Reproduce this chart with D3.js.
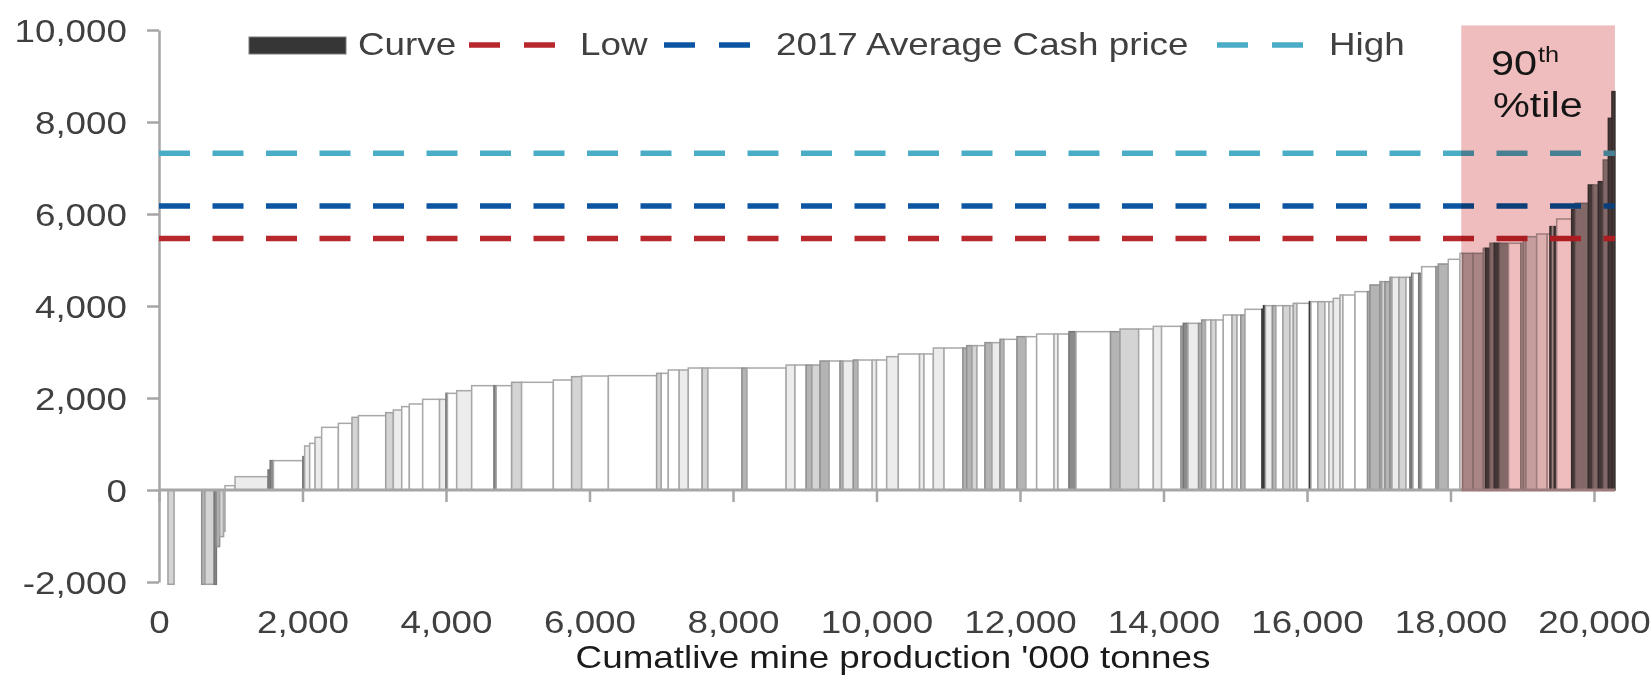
<!DOCTYPE html>
<html>
<head>
<meta charset="UTF-8">
<title>Cash cost curve</title>
<script src="https://d3js.org/d3.v7.min.js"></script>
<style>
  body { margin: 0; background: #fff; }
  svg { display: block; font-family: "Liberation Sans", Arial, sans-serif; }
</style>
</head>
<body>
<div id="chart"></div>
<script>
// output of each mine ('000 t), in curve order
const mineOutput = [
  125, 85, 385, 45, 130, 30, 45, 55, 20, 140, 460, 30, 45, 410, 25, 70, 75, 92, 233, 190,
  90, 380, 106, 117, 106, 186, 235, 90, 20, 129, 209, 312, 30, 215, 139, 442, 255, 140, 372, 673,
  64, 98, 152, 127, 193, 80, 475, 70, 545, 124, 156, 80, 113, 127, 152, 42, 143, 65, 198, 60,
  142, 162, 296, 62, 130, 149, 264, 52, 73, 70, 112, 98, 111, 56, 181, 125, 149, 242, 55, 154,
  97, 482, 132, 260, 204, 115, 271, 32, 65, 148, 43, 54, 75, 70, 102, 122, 70, 52, 59, 236,
  22, 27, 97, 49, 98, 97, 47, 51, 174, 21, 97, 98, 56, 61, 93, 41, 168, 175, 34, 139,
  24, 46, 70, 28, 97, 98, 55, 24, 18, 80, 41, 199, 33, 139, 163, 38, 146, 141, 32, 61,
  61, 73, 124, 171, 36, 38, 148, 146, 40, 33, 25, 35, 209, 51, 181, 64, 75, 69, 71, 50, 42
];

// cash cost of each mine
const cashCost = [
  0, -2050, 0, -2050, -2050, -2050, -1230, -1014, -900, 94, 290, 435, 638, 638, 725, 957, 1014, 1145, 1362, 1449,
  1580, 1616, 1681, 1739, 1812, 1870, 1971, 1971, 2101, 2101, 2159, 2268, 2268, 2268, 2341, 2341, 2391, 2464, 2478, 2486,
  2536, 2536, 2609, 2609, 2652, 2652, 2652, 2652, 2652, 2717, 2717, 2717, 2717, 2804, 2804, 2804, 2804, 2826, 2826, 2826,
  2826, 2899, 2957, 2957, 2957, 3087, 3087, 3087, 3138, 3138, 3138, 3203, 3203, 3275, 3275, 3333, 3333, 3391, 3391, 3391,
  3442, 3442, 3442, 3500, 3500, 3558, 3558, 3558, 3623, 3623, 3623, 3696, 3696, 3696, 3696, 3804, 3804, 3804, 3804, 3928,
  3928, 4007, 4007, 4007, 4007, 4007, 4007, 4058, 4058, 4094, 4094, 4094, 4094, 4094, 4167, 4239, 4239, 4312, 4312, 4457,
  4529, 4529, 4529, 4623, 4623, 4623, 4623, 4623, 4710, 4710, 4710, 4855, 4855, 4913, 5015, 5145, 5145, 5145, 5254, 5254,
  5363, 5363, 5363, 5363, 5363, 5507, 5507, 5565, 5565, 5725, 5725, 5725, 5891, 6101, 6232, 6630, 6630, 6703, 7174, 8080, 8660
];

// shading band of each mine (0 = lightest)
const costBand = [
  0, 2, 0, 3, 2, 4, 3, 2, 1, 0, 1, 4, 4, 0, 4, 1, 0, 1, 0, 0,
  2, 0, 2, 1, 0, 0, 0, 1, 4, 0, 1, 0, 4, 0, 2, 0, 0, 2, 0, 0,
  2, 0, 0, 1, 0, 2, 0, 3, 0, 1, 0, 3, 2, 3, 0, 3, 1, 3, 0, 1,
  0, 1, 0, 1, 0, 1, 0, 3, 3, 2, 0, 3, 1, 3, 0, 3, 0, 0, 1, 0,
  4, 0, 3, 2, 0, 1, 0, 3, 4, 1, 3, 3, 0, 2, 0, 0, 2, 0, 3, 0,
  5, 5, 1, 3, 0, 2, 1, 2, 0, 5, 0, 2, 0, 1, 1, 1, 0, 0, 3, 3,
  3, 2, 3, 3, 1, 2, 0, 4, 4, 0, 4, 0, 3, 3, 0, 1, 3, 3, 3, 5,
  4, 5, 4, 0, 3, 3, 2, 1, 0, 5, 0, 5, 0, 5, 4, 5, 4, 5, 4, 5, 5
];

const legendLabels = ["Curve", "Low", "2017 Average Cash price", "High"];
const priceNames = ["Low", "2017 Average Cash price", "High"];
const priceValues = [5470, 6175, 7320];
const yTicks = [-2000, 0, 2000, 4000, 6000, 8000, 10000];
const xTicks = [0, 2000, 4000, 6000, 8000, 10000, 12000, 14000, 16000, 18000, 20000];
const p90Start = 18150;
const xTitle = "Cumatlive mine production '000 tonnes";

const width = 1652, height = 676;
const stretch = 1.15;
const axisGrey = "#a6a6a6";
const textGrey = "#404040";
const bandFill = ["#ffffff", "#ececec", "#d4d4d4", "#b4b4b4", "#8c8c8c", "#4a4a4a"];
const bandStroke = ["#a8a8a8", "#a8a8a8", "#a0a0a0", "#909090", "#777777", "#3a3a3a"];
const priceColors = ["#b8272c", "#0b55a3", "#4bacc6"];

const x = d3.scaleLinear().domain([0, 20000]).range([159, 1594]);
const y = d3.scaleLinear().domain([-2000, 10000]).range([582, 30]);

const fmt = d => d3.format(",")(d).replace("\u2212", "-");

// cumulative start/end for each mine
let run = 0;
const mines = mineOutput.map((w, i) => {
  const m = { start: run, end: run + w, cost: cashCost[i], band: costBand[i] };
  run += w;
  return m;
});
const total = run;

const svg = d3.select("#chart").append("svg")
  .attr("width", width)
  .attr("height", height);

svg.append("rect").attr("width", width).attr("height", height).attr("fill", "#fff");

// stretched text helper
function label(parent, px, py, str, size, fill, anchor) {
  return parent.append("text")
    .attr("transform", `translate(${px},${py}) scale(${stretch},1)`)
    .attr("font-size", size)
    .attr("fill", fill)
    .attr("text-anchor", anchor || "start")
    .text(str);
}

// bars
svg.append("g").selectAll("rect")
  .data(mines.filter(d => d.cost !== 0))
  .join("rect")
  .attr("x", d => x(d.start))
  .attr("width", d => x(d.end) - x(d.start))
  .attr("y", d => y(Math.max(0, d.cost)))
  .attr("height", d => Math.abs(y(d.cost) - y(0)))
  .attr("fill", d => bandFill[d.band])
  .attr("stroke", d => bandStroke[d.band])
  .attr("stroke-width", 1.5);

// y axis
const yAxis = svg.append("g")
  .attr("transform", `translate(${x(0)},0)`)
  .call(d3.axisLeft(y).tickValues(yTicks).tickSize(12).tickSizeOuter(0).tickFormat(fmt))
  .attr("font-family", null)
  .attr("font-size", 32);
yAxis.select(".domain").attr("stroke", axisGrey).attr("stroke-width", 2.5);
yAxis.selectAll(".tick line").attr("stroke", axisGrey).attr("stroke-width", 2.5);
yAxis.selectAll(".tick text")
  .attr("x", 0)
  .attr("dy", "0.35em")
  .attr("fill", textGrey)
  .attr("transform", `translate(-32,0) scale(${stretch},1)`);

// x axis sits on zero, labels below the plot
const xAxis = svg.append("g")
  .attr("transform", `translate(0,${y(0)})`)
  .call(d3.axisBottom(x).tickValues(xTicks).tickSize(12).tickFormat(fmt))
  .attr("font-family", null)
  .attr("font-size", 32);
xAxis.select(".domain").remove();
xAxis.selectAll(".tick line").attr("stroke", axisGrey).attr("stroke-width", 2.5);
xAxis.selectAll(".tick text")
  .attr("y", 0)
  .attr("dy", 0)
  .attr("fill", textGrey)
  .attr("transform", `translate(0,${633 - y(0)}) scale(${stretch},1)`);
xAxis.append("line")
  .attr("x1", x(0)).attr("x2", x(total))
  .attr("stroke", axisGrey).attr("stroke-width", 3);

// price lines
svg.append("g").selectAll("line")
  .data(priceValues)
  .join("line")
  .attr("x1", x(0))
  .attr("x2", x(total))
  .attr("y1", d => y(d))
  .attr("y2", d => y(d))
  .attr("stroke", (d, i) => priceColors[i])
  .attr("stroke-width", 5.5)
  .attr("stroke-dasharray", "31,22.5");

// 90th percentile band
svg.append("rect")
  .attr("x", x(p90Start))
  .attr("width", x(total) - x(p90Start))
  .attr("y", y(10100))
  .attr("height", y(0) + 1.5 - y(10100))
  .attr("fill", "#efbdbd")
  .style("mix-blend-mode", "multiply");

const note = svg.append("g").attr("fill", "#151515");
label(note, 1491, 75, "90", 36, "#151515");
label(note, 1538, 62, "th", 22, "#151515");
label(note, 1493, 117, "%tile", 36, "#151515");

// legend
const legend = svg.append("g");
legend.append("rect")
  .attr("x", 249).attr("y", 37).attr("width", 97).attr("height", 17)
  .attr("fill", "#363636").attr("stroke", "#7a7a7a").attr("stroke-width", 1);
label(legend, 358, 55, legendLabels[0], 32, textGrey);
const legendLines = [[469, 580], [664, 776], [1217, 1329]];
priceNames.forEach((name, i) => {
  const [lx, tx] = legendLines[i];
  legend.append("line")
    .attr("x1", lx).attr("x2", lx + 86)
    .attr("y1", 45).attr("y2", 45)
    .attr("stroke", priceColors[i])
    .attr("stroke-width", 5.5)
    .attr("stroke-dasharray", "31,24");
  label(legend, tx, 55, legendLabels[i + 1], 32, textGrey);
});

// axis title
label(svg, 893, 668, xTitle, 32, "#1a1a1a", "middle");
</script>
</body>
</html>
